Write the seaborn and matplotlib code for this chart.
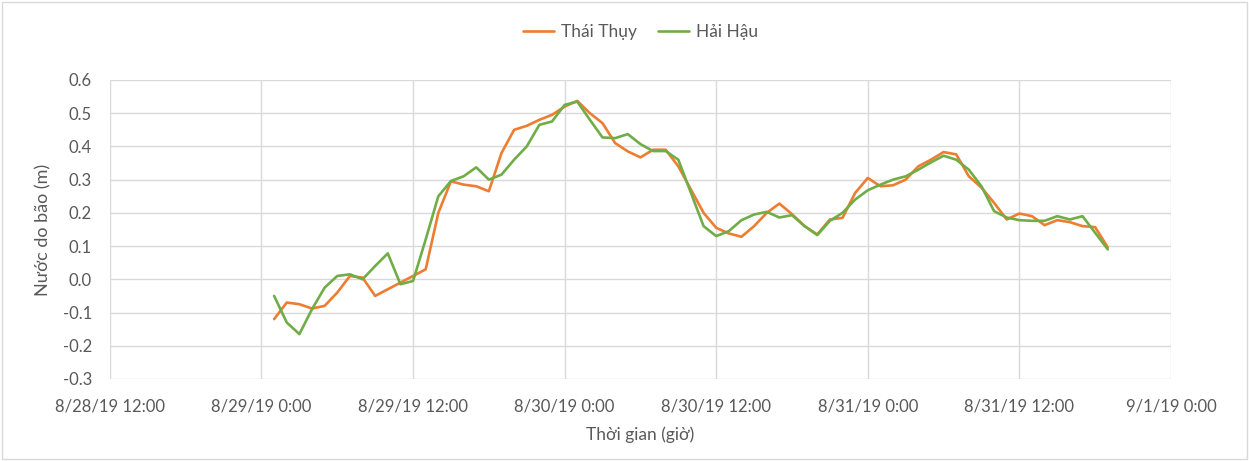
import numpy as np
import pandas as pd
import seaborn as sns
import matplotlib.dates as mdates
from matplotlib import pyplot as plt
from matplotlib.ticker import FuncFormatter, MultipleLocator

# hourly surge values, from 8/29/19 1:00 to 8/31/19 19:00
start_time = "2019-08-29 01:00"
thai_thuy = [-0.12, -0.07, -0.075, -0.088, -0.08, -0.04, 0.01, 0.005, -0.05, -0.03,
             -0.01, 0.01, 0.03, 0.20, 0.295, 0.285, 0.28, 0.265, 0.38, 0.45,
             0.462, 0.48, 0.495, 0.52, 0.537, 0.50, 0.47, 0.41, 0.385, 0.367,
             0.39, 0.39, 0.34, 0.27, 0.20, 0.155, 0.138, 0.128, 0.16, 0.20,
             0.228, 0.196, 0.16, 0.135, 0.18, 0.185, 0.26, 0.305, 0.28, 0.283,
             0.30, 0.34, 0.36, 0.383, 0.376, 0.31, 0.276, 0.23, 0.18, 0.198,
             0.19, 0.163, 0.178, 0.172, 0.16, 0.157, 0.096]
hai_hau = [-0.05, -0.13, -0.165, -0.09, -0.025, 0.01, 0.015, 0.0, 0.04, 0.078,
           -0.015, -0.005, 0.12, 0.25, 0.296, 0.31, 0.337, 0.30, 0.315, 0.36,
           0.40, 0.465, 0.475, 0.525, 0.535, 0.48, 0.427, 0.425, 0.437, 0.407,
           0.386, 0.386, 0.36, 0.26, 0.16, 0.13, 0.145, 0.178, 0.195, 0.203,
           0.186, 0.193, 0.16, 0.133, 0.176, 0.20, 0.24, 0.268, 0.285, 0.30,
           0.31, 0.33, 0.352, 0.372, 0.36, 0.33, 0.28, 0.205, 0.186, 0.178,
           0.176, 0.176, 0.19, 0.18, 0.19, 0.14, 0.09]
series_names = ["Thái Thụy", "Hải Hậu"]

times = pd.date_range(start_time, periods=len(thai_thuy), freq="h")
df = pd.concat([
    pd.DataFrame({"time": times, "value": thai_thuy, "station": series_names[0]}),
    pd.DataFrame({"time": times, "value": hai_hau, "station": series_names[1]}),
])

sns.set_style("white")
plt.rcParams["font.family"] = ["Lato", "DejaVu Sans"]
text_color = "#595959"

fig = plt.figure(figsize=(12.49, 4.61), dpi=100)
ax = fig.add_axes([0.088, 0.178, 0.8495, 0.6485])

sns.lineplot(data=df, x="time", y="value", hue="station", hue_order=series_names,
             palette=["#ED7D31", "#70AD47"], linewidth=1.9, ax=ax,
             solid_joinstyle="round", solid_capstyle="round")

ax.set_xlim(pd.Timestamp("2019-08-28 12:00"), pd.Timestamp("2019-09-01 00:00"))
ax.set_ylim(-0.3, 0.6)
ax.yaxis.set_major_locator(MultipleLocator(0.1))
ax.yaxis.set_major_formatter(FuncFormatter(lambda v, p: f"{v:.1f}"))
ax.xaxis.set_major_locator(mdates.HourLocator(byhour=[0, 12]))

def fmt_date(x, pos):
    d = mdates.num2date(x)
    return f"{d.month}/{d.day}/{d.strftime('%y')} {d.hour}:{d.minute:02d}"

ax.xaxis.set_major_formatter(FuncFormatter(fmt_date))

ax.grid(True, color="#D9D9D9", linewidth=1)
for s in ax.spines.values():
    s.set_visible(False)
ax.tick_params(axis="both", length=0, labelsize=12, colors=text_color)
ax.tick_params(axis="x", pad=14)
ax.tick_params(axis="y", pad=13)
ax.set_xlabel("Thời gian (giờ)", fontsize=12.5, color=text_color, labelpad=9)
ax.set_ylabel("Nước do bão (m)", fontsize=13, color=text_color, labelpad=8)

ax.legend(loc="upper center", bbox_to_anchor=(0.5, 1.24), ncol=2, frameon=False,
          fontsize=12.5, handlelength=1.8, columnspacing=1.2, handletextpad=0.4,
          labelcolor=text_color)

fig.patches.append(plt.Rectangle((0.002, 0.004), 0.996, 0.992, transform=fig.transFigure,
                                 fill=False, edgecolor="#D9D9D9", linewidth=1))

plt.savefig("out.png", dpi=100)
